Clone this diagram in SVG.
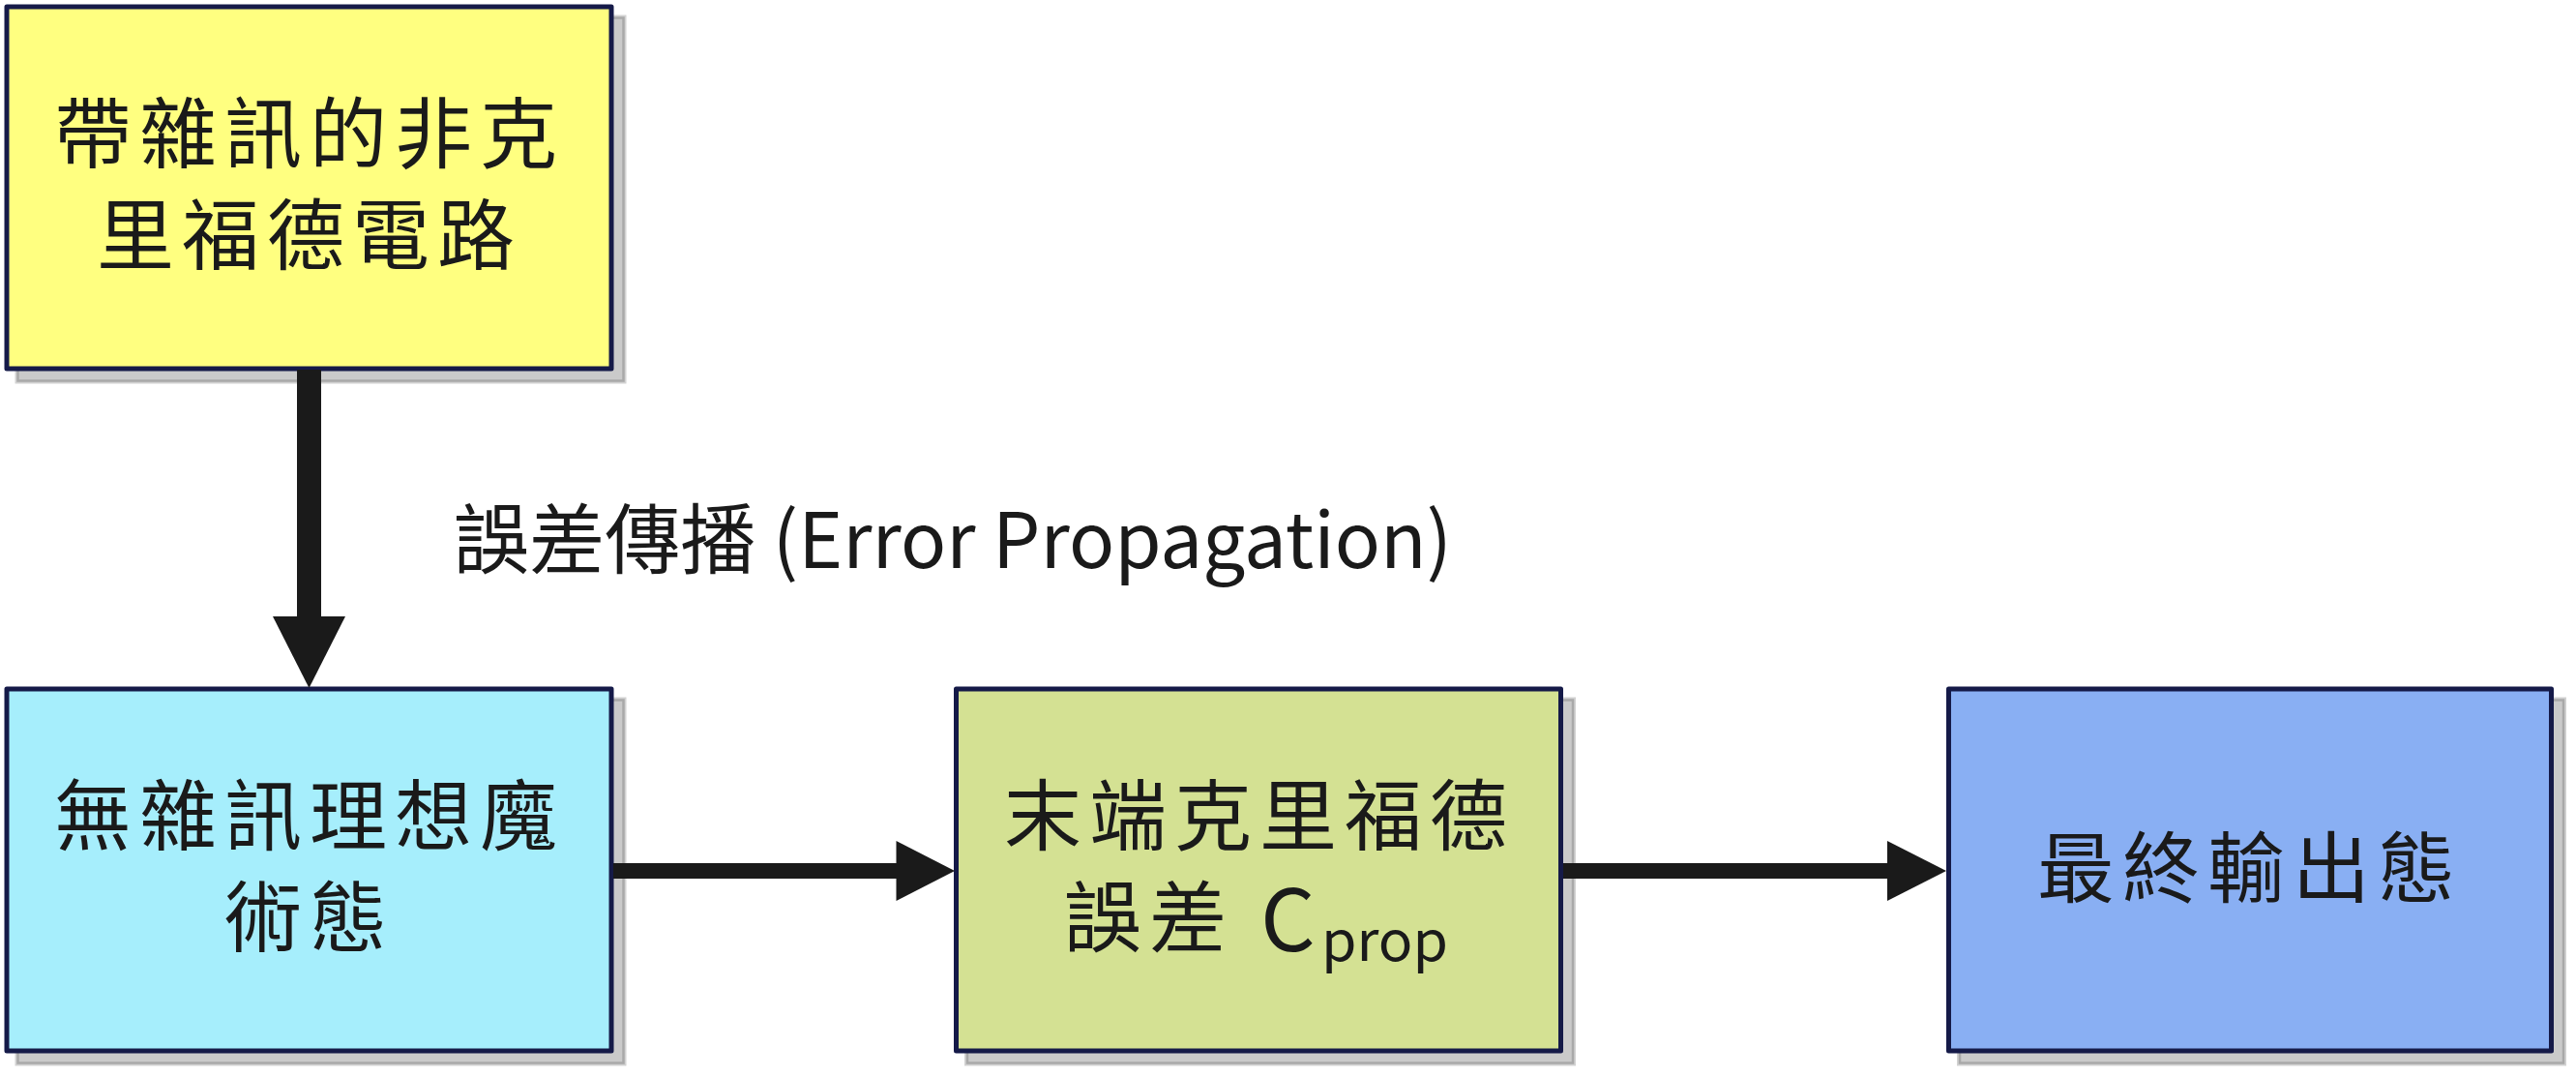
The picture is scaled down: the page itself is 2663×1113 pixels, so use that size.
<svg xmlns="http://www.w3.org/2000/svg" width="2663" height="1113" viewBox="0 0 2663 1113">
<style>
.box{stroke:#151a48;stroke-width:5;stroke-linejoin:round}
.sh-o{fill:none;stroke:#d2d2d2;stroke-width:6}
.sh-i{fill:#cacaca;stroke:#a9a9a9;stroke-width:2.5}
.t{font-family:"Noto Sans CJK TC","Noto Sans CJK SC",sans-serif;font-size:80px;fill:#1a1a1a;letter-spacing:8px;text-anchor:middle}
.lbl{font-family:"Noto Sans CJK TC","Noto Sans CJK SC",sans-serif;font-size:79px;fill:#1a1a1a}
.c{fill:#1a1a1a}
</style>
<rect width="2663" height="1113" fill="#ffffff"/>
<g id="node-noisy">
<rect class="sh-o" x="18.5" y="18.5" width="626" height="375"/>
<rect class="sh-i" x="18.5" y="18.5" width="626" height="375"/>
<rect class="box" x="7" y="7" width="625" height="374" fill="#ffff80"/>
<text class="t"><tspan x="320" y="167">帶雜訊的非克</tspan><tspan x="320" y="272">里福德電路</tspan></text>
</g>
<g id="node-ideal">
<rect class="sh-o" x="18.5" y="723.5" width="626" height="375"/>
<rect class="sh-i" x="18.5" y="723.5" width="626" height="375"/>
<rect class="box" x="7" y="712" width="625" height="374" fill="#a6eefc"/>
<text class="t"><tspan x="320" y="872">無雜訊理想魔</tspan><tspan x="320" y="977">術態</tspan></text>
</g>
<g id="node-error">
<rect class="sh-o" x="1000" y="723.5" width="626" height="375"/>
<rect class="sh-i" x="1000" y="723.5" width="626" height="375"/>
<rect class="box" x="988.5" y="712" width="625" height="374" fill="#d4e193"/>
<text class="t"><tspan x="1302" y="872">末端克里福德</tspan></text>
<text class="t" style="text-anchor:start"><tspan x="1100" y="977">誤差</tspan><tspan x="1303" y="983" style="font-size:89px;letter-spacing:0">C</tspan><tspan x="1366" y="993" style="font-size:58px;letter-spacing:0" textLength="131" lengthAdjust="spacingAndGlyphs">prop</tspan></text>
</g>
<g id="node-final">
<rect class="sh-o" x="2026" y="723.5" width="624" height="375"/>
<rect class="sh-i" x="2026" y="723.5" width="624" height="375"/>
<rect class="box" x="2014.5" y="712" width="623" height="374" fill="#89aff3"/>
<text class="t"><tspan x="2326" y="926">最終輸出態</tspan></text>
</g>
<g id="connectors">
<rect class="c" x="307" y="382" width="25" height="256"/>
<polygon class="c" points="282,637 357,637 319.5,711"/>
<rect class="c" x="634" y="892" width="294" height="16"/>
<polygon class="c" points="926.5,869 926.5,931 987,900"/>
<rect class="c" x="1616" y="892" width="336" height="16"/>
<polygon class="c" points="1951,869 1951,931 2012,900"/>
<text class="lbl" x="469" y="587" textLength="1032" lengthAdjust="spacingAndGlyphs">誤差傳播 (Error Propagation)</text>
</g>
</svg>
